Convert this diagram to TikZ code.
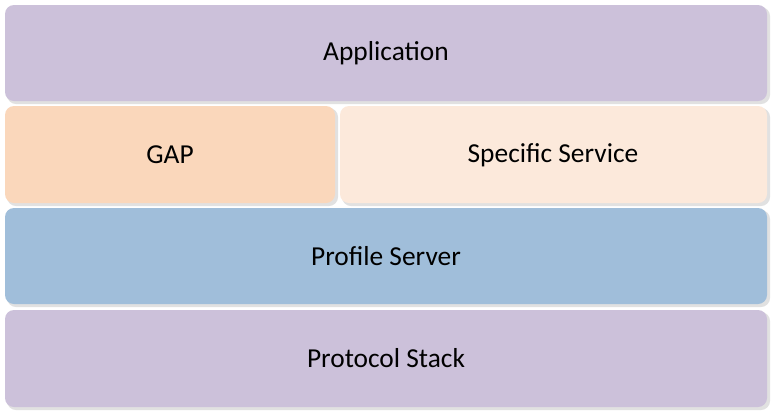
\documentclass[tikz,border=0pt]{standalone}
\usepackage{fontspec}
\setmainfont{Carlito}
\definecolor{lav}{RGB}{204,193,218}
\definecolor{gap}{RGB}{250,215,187}
\definecolor{spec}{RGB}{252,233,219}
\definecolor{prof}{RGB}{160,190,218}
\definecolor{shd}{RGB}{225,225,225}
\begin{document}
\begin{tikzpicture}[x=1bp,y=-1bp,
  blk/.style={rounded corners=9bp,font=\fontsize{27.5}{32}\selectfont},
  shadowbox/.style={fill=shd,rounded corners=9bp}]
\useasboundingbox[fill=white] (0,0) rectangle (781,419);
\foreach \a/\b/\c/\d in {5/5/767/101,5/106/335/203,340/106/767/203,5/208/767/304,5/310/767/407}
  \fill[shadowbox] (\a+2,\b+2) rectangle (\c+3,\d+3);
\fill[blk,lav] (5,5) rectangle (767,101);
\fill[blk,gap] (5,106) rectangle (335,203);
\fill[blk,spec] (340,106) rectangle (767,203);
\fill[blk,prof] (5,208) rectangle (767,304);
\fill[blk,lav] (5,310) rectangle (767,407);
\node[blk] (app) at (386,53) {Application};
\node[blk] (gapn) at (170,155) {GAP};
\node[blk] (spn) at (553,155) {Specific Service};
\node[blk] (pfn) at (386,256) {Profile Server};
\node[blk] (psn) at (386,358) {Protocol Stack};
\end{tikzpicture}
\end{document}
